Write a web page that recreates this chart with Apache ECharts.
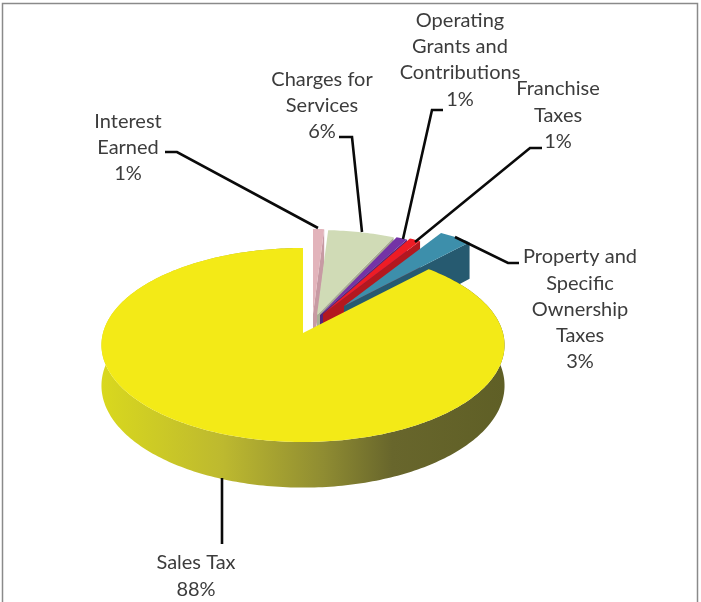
<!DOCTYPE html>
<html>
<head>
<meta charset="utf-8">
<style>html,body{margin:0;padding:0;background:#fff}#c{width:701px;height:602px}</style>
<script src="https://cdn.jsdelivr.net/npm/echarts@6/dist/echarts.min.js"></script>
</head>
<body>
<div id="c"></div>
<script>
// Data: clockwise from 12 o'clock
const categories = ['Interest\nEarned', 'Charges for\nServices', 'Operating\nGrants and\nContributions', 'Franchise\nTaxes', 'Property and\nSpecific\nOwnership\nTaxes', 'Sales Tax'];
const shares = [1, 6, 1, 1, 3, 88];

// Styling and layout
const topColors = ['#e2b4bb', '#d0dbb6', '#7433a6', '#ee1c25', '#3d8fab', '#f3ea17'];
const wallColors = ['#c79aa3', '#a9ae94', '#54247a', '#b3181f', '#265a70', '#000000'];
const explodeOffsets = [[10, -19], [14, -18], [17, -18], [20, -19], [41, -27], [0, 0]];
const labelAnchors = [[128, 121.5], [322, 79.5], [460, 20.5], [558, 89], [580, 257], [196, 563]];
const leaders = [
  [[165, 152], [177, 152], [318, 228]],
  [[339, 137], [352, 137], [362, 232]],
  [[443, 110], [432, 110], [403, 239]],
  [[542, 148], [530, 148], [415, 242]],
  [[519, 263], [508, 263], [455, 237]],
  [[222, 478], [222, 544]]
];
const CX = 303, CY = 333, RX = 200, RY = 95.5, K = 0.1236, DEPTH = 40;
const LINE_H = 26.2;

function project(theta, r, z, off) {
  const u = r * Math.sin(theta), v = -r * Math.cos(theta);
  const w = 1 / (1 - K * v);
  return [CX + off[0] + RX * u * w, CY + off[1] + RY * v * w + z * DEPTH * w];
}
function arc(a0, a1, z, off) {
  const pts = [], n = Math.max(2, Math.ceil((a1 - a0) / (Math.PI / 180)));
  for (let i = 0; i <= n; i++) pts.push(project(a0 + (a1 - a0) * i / n, 1, z, off));
  return pts;
}
const total = shares.reduce((a, b) => a + b, 0);

const chart = echarts.init(document.getElementById('c'), null, {renderer: 'canvas'});

function renderSlice(params, api) {
  const i = params.dataIndex;
  let before = 0;
  for (let j = 0; j < i; j++) before += shares[j];
  const a0 = before / total * 2 * Math.PI;
  const a1 = (before + api.value(0)) / total * 2 * Math.PI;
  const off = explodeOffsets[i];
  const children = [];
  const isMain = i === shares.length - 1;
  if (isMain) {
    const band = arc(a0, a1, 0, off).concat(arc(a0, a1, 1, off).reverse());
    children.push({type: 'polygon', shape: {points: band}, style: {
      fill: new echarts.graphic.LinearGradient(102, 0, 505, 0, [
        {offset: 0, color: '#d9d81e'},
        {offset: 0.3, color: '#bdb92f'},
        {offset: 0.55, color: '#8f8c32'},
        {offset: 0.72, color: '#68662c'},
        {offset: 1, color: '#5f5f26'}
      ], true)
    }});
  } else {
    const apex = project(a1, 0, 0, off), apexLow = project(a1, 0, 1, off);
    const rimTop = project(a1, 1, 0, off), rimLow = project(a1, 1, 1, off);
    children.push({type: 'polygon', shape: {points: [apex, rimTop, rimLow, apexLow]}, style: {fill: wallColors[i]}});
  }
  const top = [project(a0, 0, 0, off)].concat(arc(a0, a1, 0, off));
  children.push({type: 'polygon', shape: {points: top}, style: {fill: topColors[i]}});
  children.push({type: 'polyline', shape: {points: leaders[i]}, style: {stroke: '#0a0a0a', lineWidth: 2.6, fill: null}});
  const lines = categories[i].split('\n').concat(Math.round(api.value(0) / total * 100) + '%');
  lines.forEach((t, n) => children.push({
    type: 'text',
    style: {
      x: labelAnchors[i][0], y: labelAnchors[i][1] + n * LINE_H,
      text: t, align: 'center', verticalAlign: 'middle',
      font: '20px Lato, "Open Sans", sans-serif', fill: '#3c3c3c'
    }
  }));
  return {type: 'group', children};
}

chart.setOption({
  animation: false,
  backgroundColor: '#ffffff',
  graphic: [{
    type: 'rect', z: 100, silent: true,
    shape: {x: 2.5, y: 3.5, width: 695, height: 640},
    style: {fill: null, stroke: '#8a8a8a', lineWidth: 1.5}
  }],
  series: [{
    type: 'custom',
    coordinateSystem: 'none',
    silent: true,
    renderItem: renderSlice,
    data: shares.map(v => [v])
  }]
});
</script>
</body>
</html>
